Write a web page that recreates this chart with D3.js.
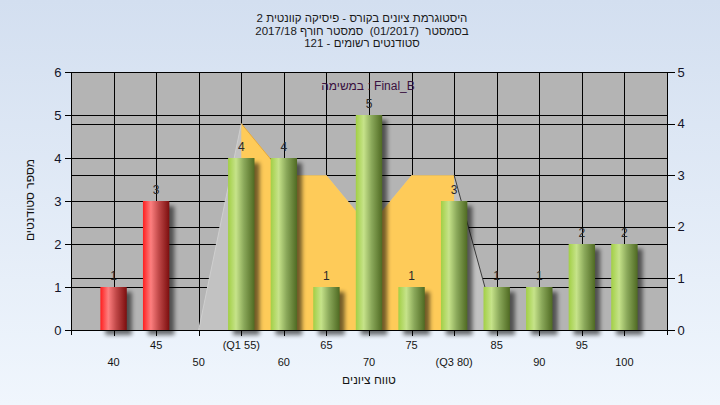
<!DOCTYPE html>
<html>
<head>
<meta charset="utf-8">
<script src="https://cdn.jsdelivr.net/npm/d3@7/dist/d3.min.js"></script>
<style>
  html, body { margin: 0; padding: 0; }
  body { width: 720px; height: 405px; overflow: hidden; }
  text { font-family: "Liberation Sans", Arial, sans-serif; }
  .title { white-space: pre; }
</style>
</head>
<body>
<svg id="chart" width="720" height="405"></svg>
<script>
// ---------- data ----------
const categories = [40, 45, 50, 55, 60, 65, 70, 75, 80, 85, 90, 95, 100];
const tickLabels = ["40", "45", "50", "(Q1 55)", "60", "65", "70", "75", "(Q3 80)", "85", "90", "95", "100"];
const counts = [1, 3, 0, 4, 4, 1, 5, 1, 3, 1, 1, 2, 2];
const areaCategories = [50, 55, 60, 65, 70, 75, 80, 85];
const areaValues = [0, 4, 3, 3, 2, 3, 3, 0];
const q1 = 55, q3 = 80;
const passMark = 50;
const leftTicks = [0, 1, 2, 3, 4, 5, 6];
const rightTicks = [0, 1, 2, 3, 4, 5];
const titleLines = [
  "היסטוגרמת ציונים בקורס - פיסיקה קוונטית 2",
  "בסמסטר  (01/2017)  סמסטר חורף 2017/18",
  "סטודנטים רשומים - 121"
];
const seriesLabel = "במשימה : Final_B";
const yTitle = "מספר סטודנטים";
const xTitle = "טווח ציונים";

// ---------- layout ----------
const W = 720, H = 405;
const plot = { left: 71, right: 667, top: 72, bottom: 330 };
const svg = d3.select("#chart");
const defs = svg.append("defs");

const bg = defs.append("linearGradient").attr("id", "bg").attr("x1", 0).attr("y1", 0).attr("x2", 0).attr("y2", 1);
bg.append("stop").attr("offset", "0%").attr("stop-color", "#d3dff0");
bg.append("stop").attr("offset", "100%").attr("stop-color", "#f0f6fd");

function barGrad(id, stops) {
  const g = defs.append("linearGradient").attr("id", id).attr("x1", 0).attr("y1", 0).attr("x2", 1).attr("y2", 0);
  stops.forEach(s => g.append("stop").attr("offset", s[0]).attr("stop-color", s[1]));
}
barGrad("gGreen", [["0%", "#a2cf45"], ["30%", "#c6e38a"], ["60%", "#8aa85a"], ["100%", "#4f6a22"]]);
barGrad("gRed", [["0%", "#ff1e1e"], ["30%", "#fd7f7f"], ["60%", "#c04848"], ["100%", "#7c0e0e"]]);

const blur = defs.append("filter").attr("id", "shadow").attr("x", "-50%").attr("y", "-50%").attr("width", "200%").attr("height", "200%");
blur.append("feGaussianBlur").attr("stdDeviation", 2);

svg.append("rect").attr("width", W).attr("height", H).attr("fill", "url(#bg)");

// scales
const x = d3.scalePoint().domain(categories).range([plot.left, plot.right]).padding(1);
const y = d3.scaleLinear().domain([0, 6]).range([plot.bottom, plot.top]);
const y2 = d3.scaleLinear().domain([0, 5]).range([plot.bottom, plot.top]);

// plot background
svg.append("rect").attr("x", plot.left).attr("y", plot.top)
  .attr("width", plot.right - plot.left).attr("height", plot.bottom - plot.top)
  .attr("fill", "#b4b4b4");

// gridlines
const grid = svg.append("g").attr("stroke", "#000").attr("stroke-width", 1).attr("shape-rendering", "crispEdges");
leftTicks.forEach(t => grid.append("line").attr("x1", plot.left).attr("x2", plot.right).attr("y1", Math.round(y(t)) + 0.5).attr("y2", Math.round(y(t)) + 0.5));
rightTicks.forEach(t => grid.append("line").attr("x1", plot.left).attr("x2", plot.right).attr("y1", Math.round(y2(t)) + 0.5).attr("y2", Math.round(y2(t)) + 0.5));
categories.forEach(c => grid.append("line").attr("x1", Math.round(x(c)) + 0.5).attr("x2", Math.round(x(c)) + 0.5).attr("y1", plot.top).attr("y2", plot.bottom));

// area series (secondary axis)
const areaData = areaCategories.map((c, i) => ({ c, v: areaValues[i] }));
const area = d3.area().x(d => x(d.c)).y0(y2(0)).y1(d => y2(d.v));
svg.append("path").datum(areaData).attr("d", area).attr("fill", "#c2c2c2");
const inner = areaData.filter(d => d.c >= q1 && d.c <= q3);
svg.append("path").datum(inner).attr("d", area).attr("fill", "#fecb59");
const line = d3.line().x(d => x(d.c)).y(d => y2(d.v));
svg.append("path").datum(areaData.filter(d => d.c >= q3)).attr("d", line)
  .attr("fill", "none").attr("stroke", "#3c3c3c").attr("stroke-width", 1);
svg.append("path").datum(areaData.filter(d => d.c <= q1)).attr("d", line)
  .attr("fill", "none").attr("stroke", "#cfcfcf").attr("stroke-width", 1);
svg.append("path").datum(inner.slice(0, 2)).attr("d", line)
  .attr("fill", "none").attr("stroke", "#e6a83a").attr("stroke-width", 1);

// bars
const bw = x.step() * 0.62;
const bars = categories.map((c, i) => ({ c, v: counts[i], label: tickLabels[i] }));
const gb = svg.append("g");
gb.selectAll("rect.sh").data(bars.filter(d => d.v > 0)).join("rect")
  .attr("class", "sh")
  .attr("x", d => x(d.c) - bw / 2 + 5).attr("y", d => y(d.v) + 5)
  .attr("width", bw).attr("height", d => y(0) - y(d.v))
  .attr("fill", "#000").attr("opacity", 0.55).attr("filter", "url(#shadow)");
gb.selectAll("rect.bar").data(bars.filter(d => d.v > 0)).join("rect")
  .attr("class", "bar")
  .attr("x", d => x(d.c) - bw / 2).attr("y", d => y(d.v))
  .attr("width", bw).attr("height", d => y(0) - y(d.v))
  .attr("fill", d => d.c < passMark ? "url(#gRed)" : "url(#gGreen)");
gb.selectAll("text.val").data(bars.filter(d => d.v > 0)).join("text")
  .attr("class", "val")
  .attr("x", d => x(d.c)).attr("y", d => y(d.v) - 7)
  .attr("text-anchor", "middle").attr("font-size", 12).attr("fill", "#2a2a2a")
  .text(d => d.v);

// axes
const axisG = svg.append("g").attr("stroke", "#000").attr("shape-rendering", "crispEdges");
axisG.append("line").attr("x1", plot.left + 0.5).attr("x2", plot.left + 0.5).attr("y1", plot.top).attr("y2", plot.bottom + 5);
axisG.append("line").attr("x1", plot.right + 0.5).attr("x2", plot.right + 0.5).attr("y1", plot.top).attr("y2", plot.bottom + 5);
axisG.append("line").attr("x1", plot.left).attr("x2", plot.right).attr("y1", plot.bottom + 0.5).attr("y2", plot.bottom + 0.5);
axisG.append("line").attr("x1", plot.left).attr("x2", plot.right).attr("y1", plot.top + 0.5).attr("y2", plot.top + 0.5);

const leftAxis = d3.axisLeft(y).tickValues(leftTicks).tickSize(7).tickPadding(3).tickFormat(d3.format("d"));
const la = svg.append("g").attr("transform", `translate(${plot.left + 0.5},0)`).call(leftAxis);
const rightAxis = d3.axisRight(y2).tickValues(rightTicks).tickSize(7).tickPadding(3).tickFormat(d3.format("d"));
const ra = svg.append("g").attr("transform", `translate(${plot.right + 0.5},0)`).call(rightAxis);
[la, ra].forEach(g => {
  g.select(".domain").remove();
  g.selectAll(".tick line").attr("stroke", "#000").attr("shape-rendering", "crispEdges");
  g.selectAll(".tick text").attr("font-size", 13).attr("fill", "#141428")
    .attr("font-family", "'Liberation Sans', Arial, sans-serif");
});

const bottomAxis = d3.axisBottom(x).tickSize(5).tickFormat("");
const ba = svg.append("g").attr("transform", `translate(0,${plot.bottom + 0.5})`).call(bottomAxis);
ba.select(".domain").remove();
ba.selectAll(".tick line").attr("stroke", "#000").attr("shape-rendering", "crispEdges");
axisG.append("line").attr("x1", plot.left + 0.5).attr("x2", plot.left + 0.5).attr("y1", plot.bottom).attr("y2", plot.bottom + 5);

// category labels in two rows
svg.append("g").selectAll("text").data(bars).join("text")
  .attr("x", d => x(d.c))
  .attr("y", (d, i) => i % 2 === 1 ? 349 : 366)
  .attr("text-anchor", "middle").attr("font-size", 11).attr("fill", "#141414")
  .text(d => d.label);

// titles (right-to-left Hebrew)
svg.append("g").selectAll("text").data(titleLines).join("text")
  .attr("class", "title")
  .attr("x", 362).attr("y", (d, i) => 22 + i * 12.6)
  .attr("direction", "rtl")
  .attr("text-anchor", "middle").attr("font-size", 11.5).attr("fill", "#1a1a1a")
  .text(d => d);

svg.append("text").attr("x", 368).attr("y", 90).attr("text-anchor", "middle")
  .attr("font-size", 12).attr("fill", "#3a1040").text(seriesLabel);

svg.append("text").attr("transform", "translate(34,200) rotate(-90)")
  .attr("direction", "rtl")
  .attr("text-anchor", "middle").attr("font-size", 12).attr("fill", "#141414").text(yTitle);
svg.append("text").attr("x", 369).attr("y", 384).attr("text-anchor", "middle")
  .attr("direction", "rtl")
  .attr("font-size", 12).attr("fill", "#141414").text(xTitle);
</script>
</body>
</html>
